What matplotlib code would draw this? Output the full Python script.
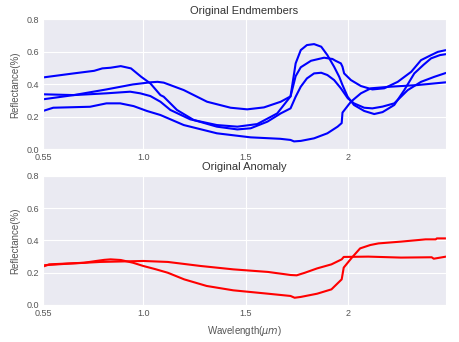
import matplotlib
matplotlib.use("Agg")
import matplotlib.pyplot as plt
import seaborn as sns

# Band axis: tick positions and their wavelength labels
tick_bands = [0, 49, 99, 149]
tick_labels = ["0.55", "1.0", "1.5", "2"]
y_ticks = [0.0, 0.2, 0.4, 0.6, 0.8]

# Endmember spectra (band index, reflectance)
em_a_band = [0, 15, 25, 29, 33, 38, 43, 48, 52.5, 57.4, 59, 65.5, 73.7, 85, 95,
             101.5, 109.7, 116.2, 121, 123.5, 126, 129, 132.5, 136, 139, 142.3,
             145.6, 149, 152, 157, 161, 166, 171.7, 178.3, 184.8, 191.3, 197]
em_a_val = [0.442, 0.467, 0.483, 0.498, 0.502, 0.512, 0.498, 0.446, 0.405, 0.333,
            0.323, 0.241, 0.179, 0.138, 0.121, 0.128, 0.169, 0.22, 0.251, 0.323,
            0.385, 0.436, 0.467, 0.471, 0.457, 0.426, 0.375, 0.313, 0.282, 0.255,
            0.251, 0.262, 0.282, 0.364, 0.415, 0.446, 0.47]

em_b_band = [0, 15, 31, 44, 52.5, 56, 59, 68.8, 80.2, 91.7, 99.8, 108, 116.2,
             121, 123.5, 126, 131, 137.4, 141.5, 143, 145.6, 146.4, 147.2, 150.5,
             155.4, 161, 166.8, 173.4, 180, 184.8, 189.7, 193, 197]
em_b_val = [0.307, 0.333, 0.368, 0.399, 0.412, 0.415, 0.41, 0.364, 0.292, 0.255,
            0.245, 0.257, 0.292, 0.325, 0.45, 0.505, 0.545, 0.564, 0.556, 0.545,
            0.529, 0.508, 0.467, 0.426, 0.389, 0.368, 0.375, 0.415, 0.477, 0.549,
            0.58, 0.60, 0.611]

em_c_band = [0, 15, 31, 42.6, 47.5, 52.5, 57.4, 62.3, 72, 85, 95, 104.7, 114.5,
             121, 123.5, 126, 129, 132.5, 136, 139, 142.3, 144.8, 146.4, 148.9,
             152, 157, 161.9, 166, 171.7, 176.6, 181.5, 186, 189.7, 194, 197]
em_c_val = [0.338, 0.333, 0.344, 0.354, 0.344, 0.327, 0.292, 0.241, 0.183, 0.148,
            0.138, 0.154, 0.22, 0.325, 0.529, 0.611, 0.642, 0.648, 0.632, 0.58,
            0.508, 0.446, 0.395, 0.323, 0.272, 0.235, 0.216, 0.228, 0.272, 0.364,
            0.467, 0.52, 0.56, 0.58, 0.586]

em_d_band = [0, 5, 23, 31, 37.7, 44.3, 50.8, 57.4, 68.8, 85, 101.5, 116, 121,
             122.7, 126, 132.5, 139, 144, 146, 146.4, 150.5, 155.4, 160.3, 170,
             183, 197]
em_d_val = [0.235, 0.255, 0.261, 0.282, 0.282, 0.265, 0.235, 0.21, 0.148, 0.097,
            0.072, 0.063, 0.056, 0.047, 0.05, 0.066, 0.097, 0.138, 0.16, 0.225,
            0.292, 0.344, 0.375, 0.385, 0.395, 0.412]

# Anomaly spectra
an_1_band = [0, 3, 20, 26, 30, 33, 38, 44, 49, 55, 61, 69, 80, 93, 110, 121,
             123, 126, 134, 141, 146, 147, 151, 155, 160, 164, 175, 187, 192,
             192.5, 197]
an_1_val = [0.238, 0.252, 0.262, 0.273, 0.28, 0.283, 0.279, 0.262, 0.242, 0.222,
            0.20, 0.159, 0.118, 0.091, 0.07, 0.056, 0.045, 0.05, 0.07, 0.097,
            0.159, 0.232, 0.294, 0.351, 0.372, 0.382, 0.393, 0.407, 0.407, 0.413,
            0.413]

an_2_band = [0, 12, 28, 49, 61, 77, 93, 110, 121, 124, 128, 134, 141, 146, 147,
             159, 175, 190, 191, 197]
an_2_val = [0.246, 0.256, 0.267, 0.273, 0.267, 0.242, 0.221, 0.205, 0.186, 0.184,
            0.20, 0.227, 0.252, 0.283, 0.298, 0.30, 0.294, 0.296, 0.287, 0.30]

sns.set_style("darkgrid")
plt.rcParams["font.family"] = ["Liberation Sans", "DejaVu Sans"]
text_color = "#555555"

fig = plt.figure(figsize=(4.59, 3.42), dpi=100)
ax1 = fig.add_axes([0.0937, 0.5643, 0.878, 0.3787])
ax2 = fig.add_axes([0.0937, 0.1082, 0.878, 0.3772])

for band, val in [(em_a_band, em_a_val), (em_b_band, em_b_val),
                  (em_c_band, em_c_val), (em_d_band, em_d_val)]:
    ax1.plot(band, val, color="b", linewidth=1.5, solid_joinstyle="round")

for band, val in [(an_1_band, an_1_val), (an_2_band, an_2_val)]:
    ax2.plot(band, val, color="r", linewidth=1.5, solid_joinstyle="round")

for ax in (ax1, ax2):
    ax.set_xlim(0, 197)
    ax.set_ylim(0, 0.8)
    ax.set_xticks(tick_bands)
    ax.set_xticklabels(tick_labels)
    ax.set_yticks(y_ticks)
    ax.set_yticklabels([f"{v:.1f}" for v in y_ticks])
    ax.tick_params(labelsize=6.5, length=0, pad=3, labelcolor=text_color)
    ax.set_ylabel("Reflectance(%)", fontsize=7, color=text_color, labelpad=4)

ax1.set_title("Original Endmembers", fontsize=8, color="#333333", pad=4)
ax2.set_title("Original Anomaly", fontsize=8, color="#333333", pad=4)
ax2.set_xlabel(r"Wavelength($\mu m$)", fontsize=7, color=text_color, labelpad=4)

fig.savefig("out.png", dpi=100)
